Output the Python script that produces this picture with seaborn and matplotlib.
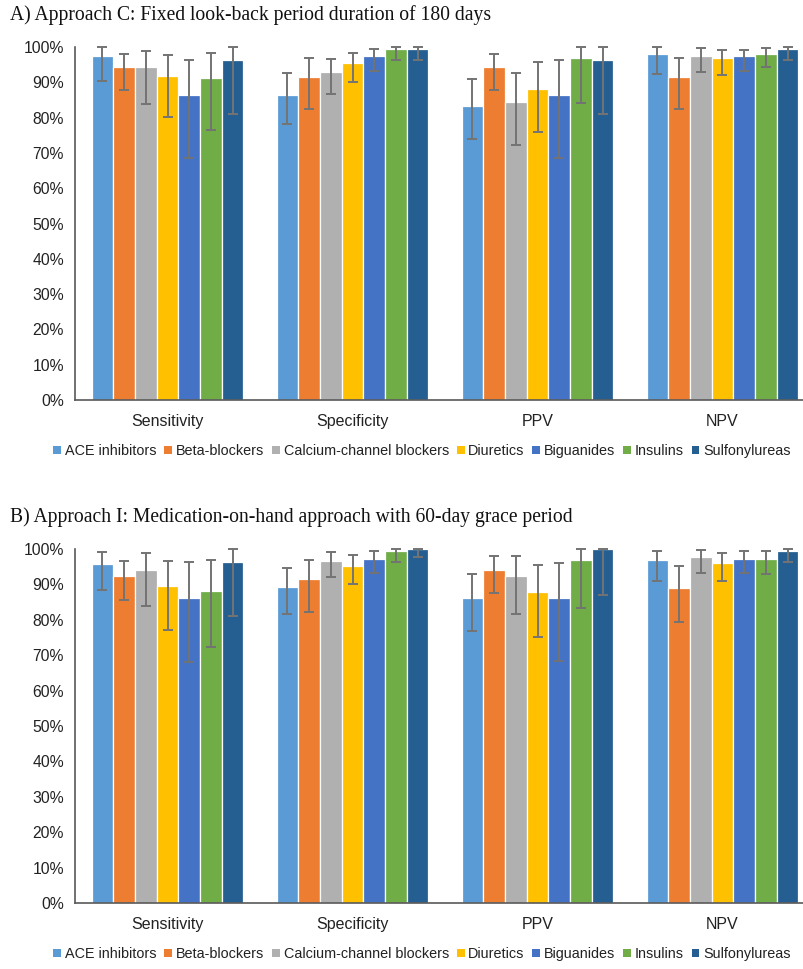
import matplotlib
matplotlib.use("Agg")
import matplotlib.pyplot as plt
import seaborn as sns
import pandas as pd
import numpy as np
from matplotlib.ticker import PercentFormatter, MultipleLocator

sns.set_theme(style="white")
plt.rcParams['font.family'] = ['Liberation Sans', 'DejaVu Sans']

metrics = ["Sensitivity", "Specificity", "PPV", "NPV"]
drugs = ["ACE inhibitors", "Beta-blockers", "Calcium-channel blockers", "Diuretics",
         "Biguanides", "Insulins", "Sulfonylureas"]
colors = ["#5B9BD5", "#ED7D31", "#B0B0B0", "#FFC000", "#4472C4", "#70AD47", "#255E91"]

# Panel A: values[metric][drug]
a_val = [[97.4, 94.3, 94.2, 91.8, 86.3, 91.3, 96.4],
         [86.4, 91.5, 92.8, 95.4, 97.4, 99.4, 99.4],
         [83.4, 94.3, 84.3, 88.1, 86.3, 97.0, 96.4],
         [97.9, 91.5, 97.5, 96.9, 97.4, 98.1, 99.4]]
a_lo = [[90.4, 87.9, 83.9, 80.1, 68.5, 76.4, 81.1],
        [78.1, 82.5, 86.8, 90.0, 93.2, 96.2, 96.4],
        [73.8, 87.9, 72.2, 75.8, 68.6, 84.0, 81.1],
        [92.4, 82.5, 92.8, 92.1, 93.3, 94.2, 96.4]]
a_hi = [[99.9, 98.0, 99.0, 97.8, 96.2, 98.2, 100.0],
        [92.5, 96.9, 96.7, 98.3, 99.3, 100.0, 100.0],
        [90.8, 98.1, 92.6, 95.7, 96.2, 100.0, 100.0],
        [99.9, 96.9, 99.6, 99.2, 99.2, 99.7, 100.0]]

# Panel B
b_val = [[95.8, 92.4, 94.2, 89.6, 86.2, 88.2, 96.3],
         [89.2, 91.4, 96.7, 95.3, 97.2, 99.4, 100.0],
         [86.1, 94.2, 92.4, 87.8, 86.1, 96.9, 100.0],
         [96.9, 89.0, 97.6, 96.0, 97.3, 97.3, 99.4]]
b_lo = [[88.3, 85.5, 83.8, 77.2, 68.1, 72.4, 81.0],
        [81.5, 82.3, 92.0, 90.1, 93.3, 96.2, 97.7],
        [76.8, 87.6, 81.6, 75.1, 68.3, 83.3, 86.9],
        [91.0, 79.3, 93.2, 91.0, 93.3, 93.0, 96.4]]
b_hi = [[99.2, 96.7, 98.9, 96.6, 96.2, 96.8, 100.0],
        [94.6, 96.9, 99.2, 98.4, 99.4, 100.0, 100.0],
        [92.9, 97.9, 98.0, 95.5, 96.1, 100.0, 100.0],
        [99.4, 95.3, 99.6, 98.8, 99.4, 99.4, 100.0]]

titles = ["A) Approach C: Fixed look-back period duration of 180 days",
          "B) Approach I: Medication-on-hand approach with 60-day grace period"]


def make_df(val, lo, hi):
    rows = []
    for i, m in enumerate(metrics):
        for j, d in enumerate(drugs):
            rows.append({"metric": m, "drug": d, "value": val[i][j],
                         "lo": lo[i][j], "hi": hi[i][j]})
    return pd.DataFrame(rows)


W, H = 804, 969
fig = plt.figure(figsize=(W / 100, H / 100), dpi=100)

panels = [
    dict(df=make_df(a_val, a_lo, a_hi), top=47, bottom=400, title_y=15, leg_y=451),
    dict(df=make_df(b_val, b_lo, b_hi), top=549, bottom=903, title_y=517, leg_y=954),
]

left_px, right_px = 75, 815

for p, title in zip(panels, titles):
    ax = fig.add_axes([left_px / W, 1 - p["bottom"] / H,
                       (right_px - left_px) / W, (p["bottom"] - p["top"]) / H])
    df = p["df"]
    sns.barplot(data=df, x="metric", y="value", hue="drug", order=metrics,
                hue_order=drugs, palette=colors, saturation=1, width=0.82,
                errorbar=None, edgecolor="white", linewidth=0.9, ax=ax, legend=False)
    bar_conts = list(ax.containers)
    for j, cont in enumerate(bar_conts):
        sub = df[df["drug"] == drugs[j]].set_index("metric").loc[metrics]
        xs = [b.get_x() + b.get_width() / 2 for b in cont]
        ys = sub["value"].values
        yerr = np.vstack([ys - sub["lo"].values, sub["hi"].values - ys])
        ax.errorbar(xs, ys, yerr=yerr, fmt="none", ecolor="#737373",
                    elinewidth=1.4, capsize=3.5, capthick=1.4, clip_on=False,
                    zorder=5)
    ax.set_ylim(0, 100)
    ax.set_xlim(-0.5, 3.5)
    ax.yaxis.set_major_locator(MultipleLocator(10))
    ax.yaxis.set_major_formatter(PercentFormatter(decimals=0))
    ax.set_xlabel("")
    ax.set_ylabel("")
    ax.tick_params(axis="y", length=0, labelsize=11.3, pad=8, colors="#222222")
    ax.tick_params(axis="x", length=0, labelsize=11.5, pad=10, colors="#222222")
    for s in ["top", "right"]:
        ax.spines[s].set_visible(False)
    for s in ["left", "bottom"]:
        ax.spines[s].set_color("#595959")
        ax.spines[s].set_linewidth(1.2)
    ax.grid(False)

    handles = [plt.Rectangle((0, 0), 1, 1, facecolor=c, edgecolor="none") for c in colors]
    fig.legend(handles, drugs, loc="center", bbox_to_anchor=(422 / W, 1 - p["leg_y"] / H),
               ncol=7, frameon=False, fontsize=10.35, handlelength=0.55,
               handleheight=0.55, handletextpad=0.25, columnspacing=0.55,
               labelcolor="#222222")

    fig.text(10 / W, 1 - p["title_y"] / H, title, ha="left", va="center",
             fontsize=14.1, family=["Liberation Serif", "DejaVu Serif"], color="#111111")

fig.savefig("out.png", dpi=100)
